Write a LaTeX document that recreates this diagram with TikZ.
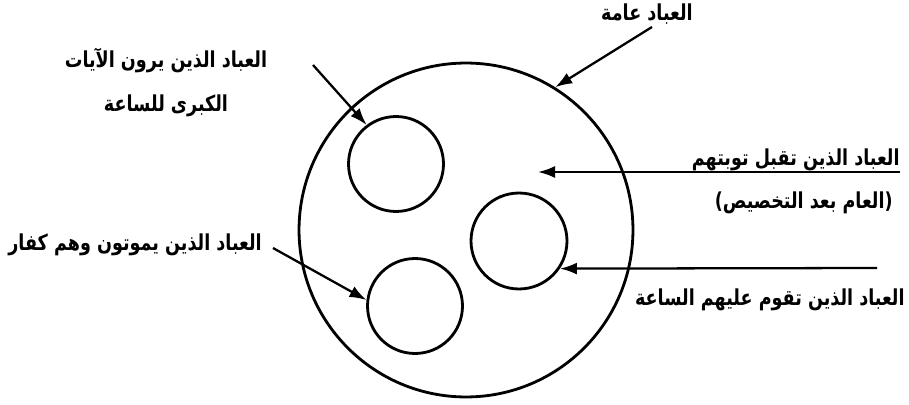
\documentclass[tikz,border=0pt]{standalone}
\usepackage{fontspec}
\usetikzlibrary{arrows.meta}
\newfontfamily\arabicfont[Script=Arabic,FakeStretch=0.8]{DejaVu Sans}
\TeXXeTstate=1

\begin{document}
\begin{tikzpicture}[x=0.02cm,y=-0.02cm,
  lbl/.style={font=\arabicfont\bfseries\fontsize{12.5}{14}\selectfont,inner sep=0pt},
  arr/.style={line width=1.3pt,-{Latex[length=3.4mm,width=2.4mm]}},
  ring/.style={draw,circle,line width=1.6pt,inner sep=0pt}]
\useasboundingbox (0,0) rectangle (909,405);
\node[ring,minimum size=6.68cm] (univ) at (466,230) {};
\node[ring,minimum size=1.9cm] (ayat) at (396,164) {};
\node[ring,minimum size=1.92cm] (tawba) at (519,241) {};
\node[ring,minimum size=1.9cm] (kuffar) at (415,306) {};
\node[lbl] (amma) at (647,14) {\beginR العباد عامة\endR};
\node[lbl] (ayatA) at (166,60) {\beginR العباد الذين يرون الآيات\endR};
\node[lbl] (ayatB) at (166,106) {\beginR الكبرى للساعة\endR};
\node[lbl,anchor=east] (tawbaA) at (900,160) {\beginR العباد الذين تقبل توبتهم\endR};
\node[lbl,anchor=east] (tawbaB) at (893,203) {\beginR (العام بعد التخصيص)\endR};
\node[lbl,anchor=east] (saa) at (905,300) {\beginR العباد الذين تقوم عليهم الساعة\endR};
\node[lbl,anchor=west] (kafir) at (8,245) {\beginR العباد الذين يموتون وهم كفار\endR};
\coordinate (pA) at (652,27);
\coordinate (pB) at (313,65);
\coordinate (pC) at (273,248);
\coordinate (pD) at (900,172);
\coordinate (pDend) at (538,172);
\coordinate (pE) at (877,268);
\draw[arr] (pA) -- (univ.58);
\draw[arr] (pB) -- (ayat.127);
\draw[arr] (pC) -- (kuffar.173);
\draw[arr] (pD) -- (pDend);
\draw[arr] (pE) -- (tawba.-34);
\end{tikzpicture}
\end{document}
